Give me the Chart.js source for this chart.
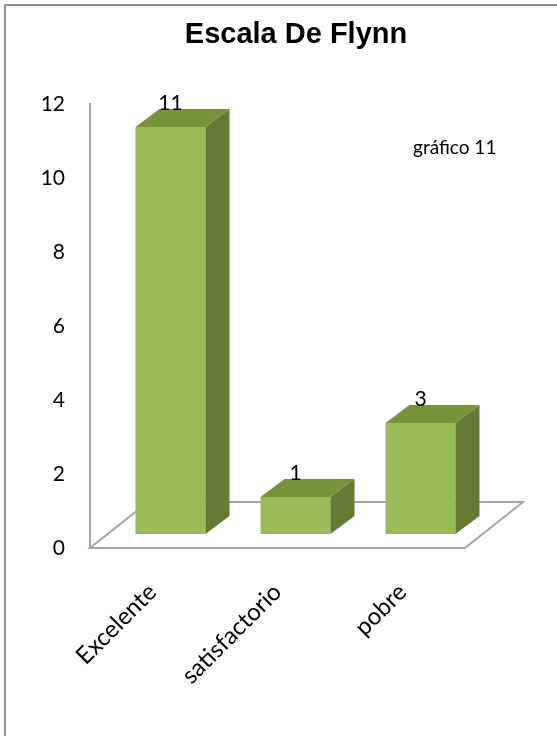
<!DOCTYPE html>
<html>
<head>
<meta charset="utf-8">
<script src="https://cdn.jsdelivr.net/npm/chart.js@4/dist/chart.umd.min.js"></script>
<style>
  html, body { margin: 0; padding: 0; background: #fff; overflow: hidden; }
  #wrap { position: relative; width: 557px; height: 736px; }
  #frame { position: absolute; left: 4px; top: 4px; width: 700px; height: 900px; border: 2px solid #8e8e8e; box-sizing: border-box; }
  canvas { position: absolute; left: 0; top: 0; }
</style>
</head>
<body>
<div id="wrap">
  <div id="frame"></div>
  <canvas id="c" width="557" height="736"></canvas>
</div>
<script>
// ---- data ----
const categories = ['Excelente', 'satisfactorio', 'pobre'];
const seriesName = 'gráfico 11';
const values = [11, 1, 3];
const yTicks = [0, 2, 4, 6, 8, 10, 12];
const chartTitle = 'Escala De Flynn';

// ---- styles / 3D geometry ----
const FRONT = '#9BBB59', TOP = '#77933C', SIDE = '#657A35';
const FLOOR_DX = 58, FLOOR_DY = 46;   // floor depth
const SHIFT_X = 18, SHIFT_Y = 14;     // bars placed inside the floor depth
const BAR_DX = 24, BAR_DY = 18;       // bar depth
const AXIS_GRAY = '#A6A6A6';

const depth3d = {
  id: 'depth3d',
  beforeDatasetsDraw(chart) {
    const { ctx, chartArea: a } = chart;
    ctx.save();
    ctx.strokeStyle = AXIS_GRAY;
    ctx.lineWidth = 2;
    ctx.beginPath();
    ctx.moveTo(a.left, a.bottom);
    ctx.lineTo(a.right, a.bottom);
    ctx.lineTo(a.right + FLOOR_DX, a.bottom - FLOOR_DY);
    ctx.lineTo(a.left + FLOOR_DX, a.bottom - FLOOR_DY);
    ctx.closePath();
    ctx.stroke();
    ctx.restore();
    ctx.save();
    ctx.translate(SHIFT_X, -SHIFT_Y);
  },
  afterDatasetsDraw(chart) {
    const ctx = chart.ctx;
    const meta = chart.getDatasetMeta(0);
    meta.data.forEach((bar, i) => {
      const { x, y, base, width } = bar.getProps(['x', 'y', 'base', 'width'], true);
      const l = x - width / 2, r = x + width / 2;
      ctx.fillStyle = TOP;
      ctx.beginPath();
      ctx.moveTo(l, y);
      ctx.lineTo(l + BAR_DX, y - BAR_DY);
      ctx.lineTo(r + BAR_DX, y - BAR_DY);
      ctx.lineTo(r, y);
      ctx.closePath();
      ctx.fill();
      ctx.fillStyle = SIDE;
      ctx.beginPath();
      ctx.moveTo(r, y);
      ctx.lineTo(r + BAR_DX, y - BAR_DY);
      ctx.lineTo(r + BAR_DX, base - BAR_DY);
      ctx.lineTo(r, base);
      ctx.closePath();
      ctx.fill();
      ctx.fillStyle = '#000';
      ctx.font = '21px Lato';
      ctx.textAlign = 'center';
      ctx.textBaseline = 'alphabetic';
      ctx.fillText(String(values[i]), x, y - BAR_DY + 1);
    });
    ctx.restore();
  },
  afterDraw(chart) {
    const ctx = chart.ctx;
    ctx.save();
    ctx.fillStyle = '#000';
    ctx.font = '19px Lato';
    ctx.textAlign = 'left';
    ctx.textBaseline = 'alphabetic';
    ctx.fillText(seriesName, 413, 154);
    ctx.restore();
  }
};

new Chart(document.getElementById('c'), {
  type: 'bar',
  data: {
    labels: categories,
    datasets: [{
      label: seriesName,
      data: values,
      backgroundColor: FRONT,
      borderWidth: 0,
      categoryPercentage: 1,
      barPercentage: 0.56,
      clip: false
    }]
  },
  options: {
    responsive: false,
    animation: false,
    events: [],
    layout: { padding: { left: 35, right: 0, top: 0, bottom: 0 } },
    plugins: {
      legend: { display: false },
      tooltip: { enabled: false },
      title: {
        display: true,
        text: chartTitle,
        color: '#000',
        font: { family: 'Liberation Sans', size: 29, weight: 'bold', lineHeight: 1.2 },
        padding: { top: 18, bottom: 51.2 }
      }
    },
    scales: {
      x: {
        grid: { display: false },
        border: { display: false },
        ticks: {
          color: '#000',
          font: { family: 'Lato', size: 24 },
          minRotation: 45,
          maxRotation: 45,
          padding: 22
        },
        afterFit: s => { s.height = 188; }
      },
      y: {
        min: 0,
        max: 12,
        afterBuildTicks: s => { s.ticks = yTicks.map(v => ({ value: v })); },
        grid: { display: false, drawTicks: false },
        border: { display: true, color: AXIS_GRAY, width: 2 },
        ticks: {
          color: '#000',
          font: { family: 'Lato', size: 21 },
          padding: 25
        },
        afterFit: s => { s.width = 55; }
      },
      spacer: {
        type: 'linear',
        axis: 'y',
        position: 'right',
        grid: { display: false },
        border: { display: false },
        ticks: { display: false },
        afterFit: s => { s.width = 92; }
      }
    }
  },
  plugins: [depth3d]
});
</script>
</body>
</html>
